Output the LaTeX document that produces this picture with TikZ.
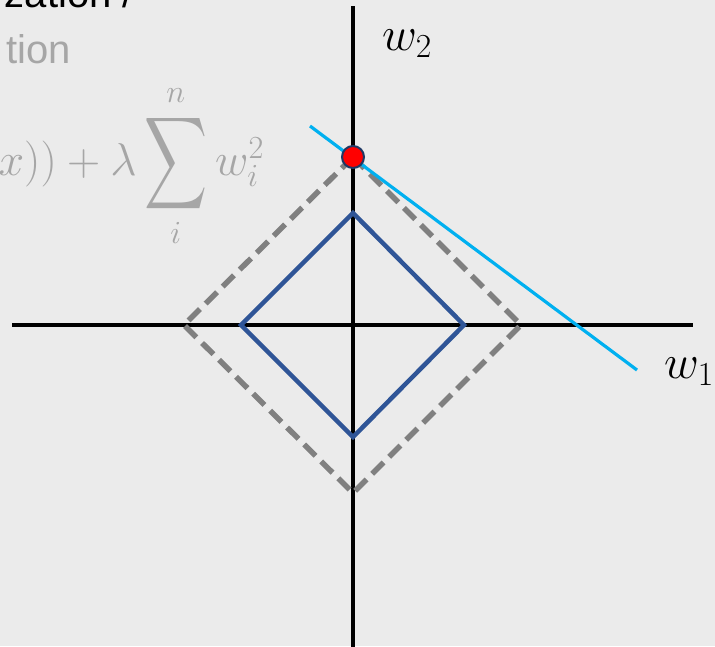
\RequirePackage{fix-cm}
\documentclass[tikz,border=0pt]{standalone}
\usepackage{fontspec}
\setmainfont{Liberation Sans}
\DeclareFontShape{OMX}{cmex}{m}{n}{<-> cmex10}{}
\definecolor{bg}{HTML}{EBEBEB}
\definecolor{inner}{HTML}{2F5597}
\definecolor{outer}{HTML}{808080}
\definecolor{tang}{HTML}{00B0F0}
\definecolor{dotedge}{HTML}{1F3864}
\definecolor{faded}{HTML}{A6A6A6}
\tikzset{
  axisline/.style={line width=4pt, black},
  innerbox/.style={line width=4.5pt, inner, line join=miter},
  outerbox/.style={line width=5.5pt, outer, dash pattern=on 16pt off 8pt, line join=miter},
  tangent/.style={line width=3.2pt, tang},
  optdot/.style={circle, fill=red, draw=dotedge, line width=2pt, minimum size=22pt, inner sep=0pt},
  axlabel/.style={inner sep=0pt, font=\fontsize{48}{50}\selectfont},
  toptext/.style={inner sep=0pt, font=\fontsize{40}{44}\selectfont}
}
\begin{document}
\begin{tikzpicture}[x=1pt,y=-1pt]
\fill[bg] (0,0) rectangle (715,646);
\useasboundingbox (0,0) rectangle (715,646);
\clip (0,0) rectangle (715,646);
% texts top-left
\node[toptext, anchor=base east] (title) at (134,7) {zation /};
\node[toptext, anchor=base east, text=faded] (sub) at (71,63) {tion};
\node[inner sep=0pt, anchor=base east, text=faded, font=\fontsize{46}{50}\selectfont] (formula) at (264,175)
  {$x)) + \lambda\mathop{\vcenter{\hbox{\scalebox{0.95}[1.4]{$\displaystyle\sum$}}}}\limits_{i}^{n} w_i^2$};
% axes
\coordinate (vt) at (353,6);
\coordinate (vb) at (353,650);
\coordinate (hl) at (12,325);
\coordinate (hr) at (693,325);
\draw[axisline] (vt) -- (vb);
\draw[axisline] (hl) -- (hr);
% diamonds
\coordinate (it) at (353,213);
\coordinate (ir) at (464,325);
\coordinate (ib) at (353,437);
\coordinate (il) at (241,325);
\draw[innerbox] (it) -- (ir) -- (ib) -- (il) -- cycle;
\coordinate (ot) at (353,157);
\coordinate (or) at (521,325);
\coordinate (ob) at (353,493);
\coordinate (ol) at (184,325);
\draw[outerbox] (ot) -- (or) -- (ob) -- (ol) -- cycle;
% tangent line
\coordinate (ts) at (310,126);
\coordinate (te) at (637,370);
\draw[tangent] (ts) -- (te);
\node[optdot] (dot) at (ot) {};
% axis labels
\node[axlabel, anchor=base west] (w2) at (382,50) {$w_2$};
\node[axlabel, anchor=base west] (w1) at (664,378) {$w_1$};
\end{tikzpicture}
\end{document}
